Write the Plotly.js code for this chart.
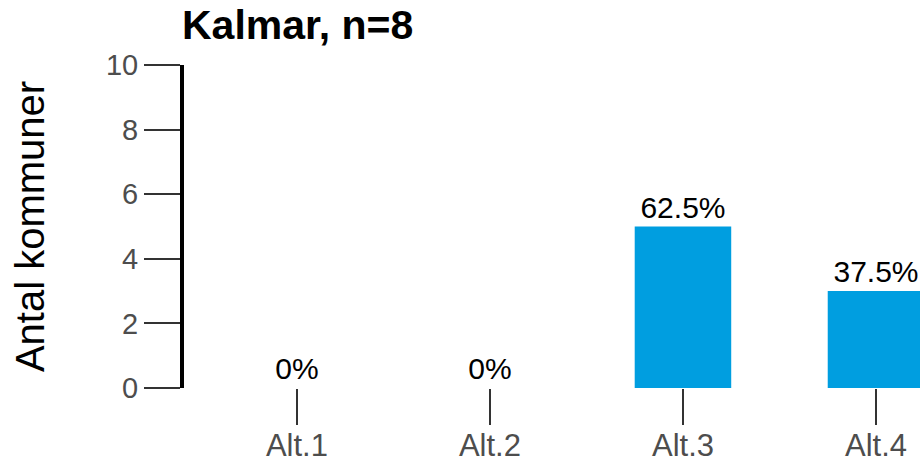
<!DOCTYPE html>
<html>
<head>
<meta charset="utf-8">
<script src="https://cdn.plot.ly/plotly-3.0.1.min.js"></script>
<style>html,body{margin:0;padding:0;background:#fff;overflow:hidden;}</style>
</head>
<body>
<div id="chart" style="width:920px;height:462px;"></div>
<script>
var categories = ["Alt.1", "Alt.2", "Alt.3", "Alt.4"];
var counts = [0, 0, 5, 3];
var labels = ["0%", "0%", "62.5%", "37.5%"];
var titleText = "Kalmar, n=8";
var yTitle = "Antal kommuner";
var yTicks = [0, 2, 4, 6, 8, 10];

var FONT = "Liberation Sans, Arial, sans-serif";

var trace = {
  type: "bar",
  x: categories,
  y: counts,
  text: labels,
  textposition: "outside",
  textfont: {family: FONT, size: 30, color: "#000"},
  cliponaxis: false,
  marker: {color: "#009EE0", line: {width: 0}},
  width: 0.5,
  hoverinfo: "none"
};

var layout = {
  width: 920, height: 462,
  margin: {l: 184, r: 0, t: 65, b: 74, pad: 0},
  paper_bgcolor: "#fff", plot_bgcolor: "#fff",
  showlegend: false,
  title: {
    text: "<b>" + titleText + "</b>",
    font: {family: FONT, size: 41, color: "#000"},
    x: 182 / 920, xref: "container", xanchor: "left",
    y: 0.915, yref: "container", yanchor: "bottom"
  },
  xaxis: {
    type: "category",
    range: [-0.585, 3.228],
    showline: false, showgrid: false, zeroline: false,
    ticks: "outside", ticklen: 36, tickwidth: 2, tickcolor: "#333",
    ticklabelstandoff: -6,
    tickfont: {family: FONT, size: 31, color: "#4d4d4d"},
    fixedrange: true
  },
  yaxis: {
    range: [0, 10],
    tickvals: yTicks,
    ticktext: yTicks.map(String),
    showline: true, linecolor: "#000", linewidth: 4,
    showgrid: false, zeroline: false,
    ticks: "outside", ticklen: 36, tickwidth: 2, tickcolor: "#333",
    tickfont: {family: FONT, size: 29, color: "#4d4d4d"},
    title: {text: yTitle, font: {family: FONT, size: 40, color: "#000"}, standoff: 50},
    fixedrange: true
  }
};

Plotly.newPlot("chart", [trace], layout, {displayModeBar: false, staticPlot: true});
</script>
</body>
</html>
